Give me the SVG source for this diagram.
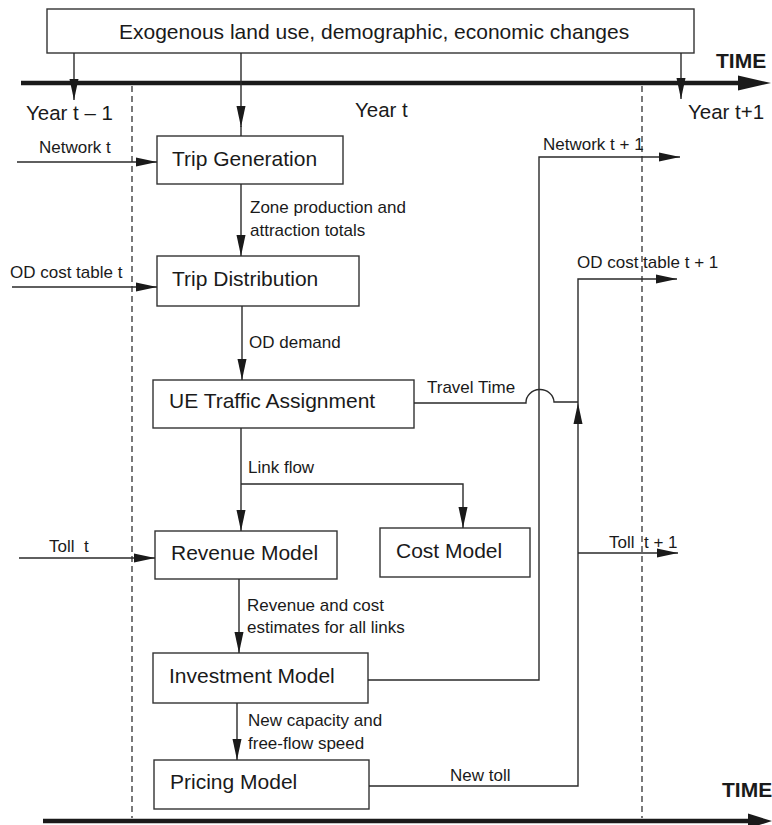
<svg xmlns="http://www.w3.org/2000/svg" width="772" height="825" viewBox="0 0 772 825">
<defs>
<style>
.box{fill:#fff;stroke:#333;stroke-width:1.4}
.bt{font-family:"Liberation Sans",Arial,sans-serif;font-size:21px;fill:#1a1a1a}
.lb{font-family:"Liberation Sans",Arial,sans-serif;font-size:17px;fill:#1a1a1a;white-space:pre}
.yr{font-family:"Liberation Sans",Arial,sans-serif;font-size:20.5px;fill:#1a1a1a}
.tm{font-family:"Liberation Sans",Arial,sans-serif;font-size:21px;font-weight:bold;fill:#1a1a1a}
.ln{fill:none;stroke:#2a2a2a;stroke-width:1.4}
.ar{fill:none;stroke:#2a2a2a;stroke-width:1.4;marker-end:url(#ah)}
.dash{fill:none;stroke:#333;stroke-width:1.3;stroke-dasharray:6,4}
.tl{fill:none;stroke:#1a1a1a;stroke-width:4.5}
</style>
<marker id="ah" markerUnits="userSpaceOnUse" markerWidth="21" markerHeight="10" refX="21" refY="5" orient="auto">
<path d="M0,0.5 L21,5 L0,9.5 z" fill="#1a1a1a"/>
</marker>
</defs>

<g id="timelines">
<line class="tl" x1="21" y1="83" x2="742" y2="83"/>
<polygon points="738,75.5 771,83 738,90.5" fill="#1a1a1a"/>
<line class="tl" x1="43" y1="821" x2="752" y2="821"/>
<polygon points="748,813.5 772,821 748,828.5" fill="#1a1a1a"/>
<line class="dash" x1="132" y1="86" x2="132" y2="818"/>
<line class="dash" x1="642" y1="86" x2="642" y2="818"/>
<text class="tm" x="716" y="68">TIME</text>
<text class="tm" x="722" y="797">TIME</text>
<text class="yr" x="26" y="120">Year t – 1</text>
<text class="yr" x="355" y="117">Year t</text>
<text class="yr" x="688" y="119">Year t+1</text>
</g>

<g id="exogenous">
<rect class="box" x="47" y="9" width="647" height="44"/>
<text class="bt" x="119" y="39">Exogenous land use, demographic, economic changes</text>
</g>

<g id="trip-generation">
<rect class="box" x="157" y="136" width="186" height="48"/>
<text class="bt" x="172" y="166">Trip Generation</text>
</g>

<g id="trip-distribution">
<rect class="box" x="157" y="256" width="202" height="50"/>
<text class="bt" x="172" y="286">Trip Distribution</text>
</g>

<g id="ue-traffic-assignment">
<rect class="box" x="153" y="380" width="261" height="48"/>
<text class="bt" x="169" y="408">UE Traffic Assignment</text>
</g>

<g id="revenue-model">
<rect class="box" x="155" y="531" width="182" height="48"/>
<text class="bt" x="171" y="560">Revenue Model</text>
</g>

<g id="cost-model">
<rect class="box" x="380" y="528" width="150" height="49"/>
<text class="bt" x="396" y="558">Cost Model</text>
</g>

<g id="investment-model">
<rect class="box" x="153" y="653" width="215" height="50"/>
<text class="bt" x="169" y="683">Investment Model</text>
</g>

<g id="pricing-model">
<rect class="box" x="154" y="760" width="215" height="49"/>
<text class="bt" x="170" y="789">Pricing Model</text>
</g>

<g id="connectors">
<path class="ar" d="M74,53 V100"/>
<path class="ar" d="M241,53 V127"/>
<path class="ln" d="M241,126 V136"/>
<path class="ar" d="M681,53 V99"/>
<path class="ar" d="M17,162 H157"/>
<path class="ar" d="M12,287 H157"/>
<path class="ar" d="M19,558 H155"/>
<path class="ar" d="M241,184 V256"/>
<path class="ar" d="M242,306 V380"/>
<path class="ar" d="M241,428 V531"/>
<path class="ar" d="M241,484 H463 V528"/>
<path class="ar" d="M239,579 V653"/>
<path class="ar" d="M237,703 V760"/>
<path class="ar" d="M368,680 H539 V157 H680"/>
<path class="ln" d="M414,403 H526 A14,13 0 0 1 554,402 H578"/>
<path class="ar" d="M369,786 H578 V403"/>
<path class="ar" d="M578,403 V279 H677"/>
<path class="ar" d="M578,553 H678"/>
<text class="lb" x="39" y="153">Network t</text>
<text class="lb" x="10" y="278">OD cost table t</text>
<text class="lb" x="49" y="552">Toll  t</text>
<text class="lb" x="250" y="213">Zone production and</text>
<text class="lb" x="250" y="236">attraction totals</text>
<text class="lb" x="249" y="348">OD demand</text>
<text class="lb" x="248" y="473">Link flow</text>
<text class="lb" x="247" y="611">Revenue and cost</text>
<text class="lb" x="247" y="633">estimates for all links</text>
<text class="lb" x="248" y="726">New capacity and</text>
<text class="lb" x="248" y="749">free-flow speed</text>
<text class="lb" x="543" y="150">Network t + 1</text>
<text class="lb" x="577" y="268">OD cost table t + 1</text>
<text class="lb" x="427" y="393">Travel Time</text>
<text class="lb" x="609" y="548">Toll  t + 1</text>
<text class="lb" x="450" y="781">New toll</text>
</g>
</svg>
